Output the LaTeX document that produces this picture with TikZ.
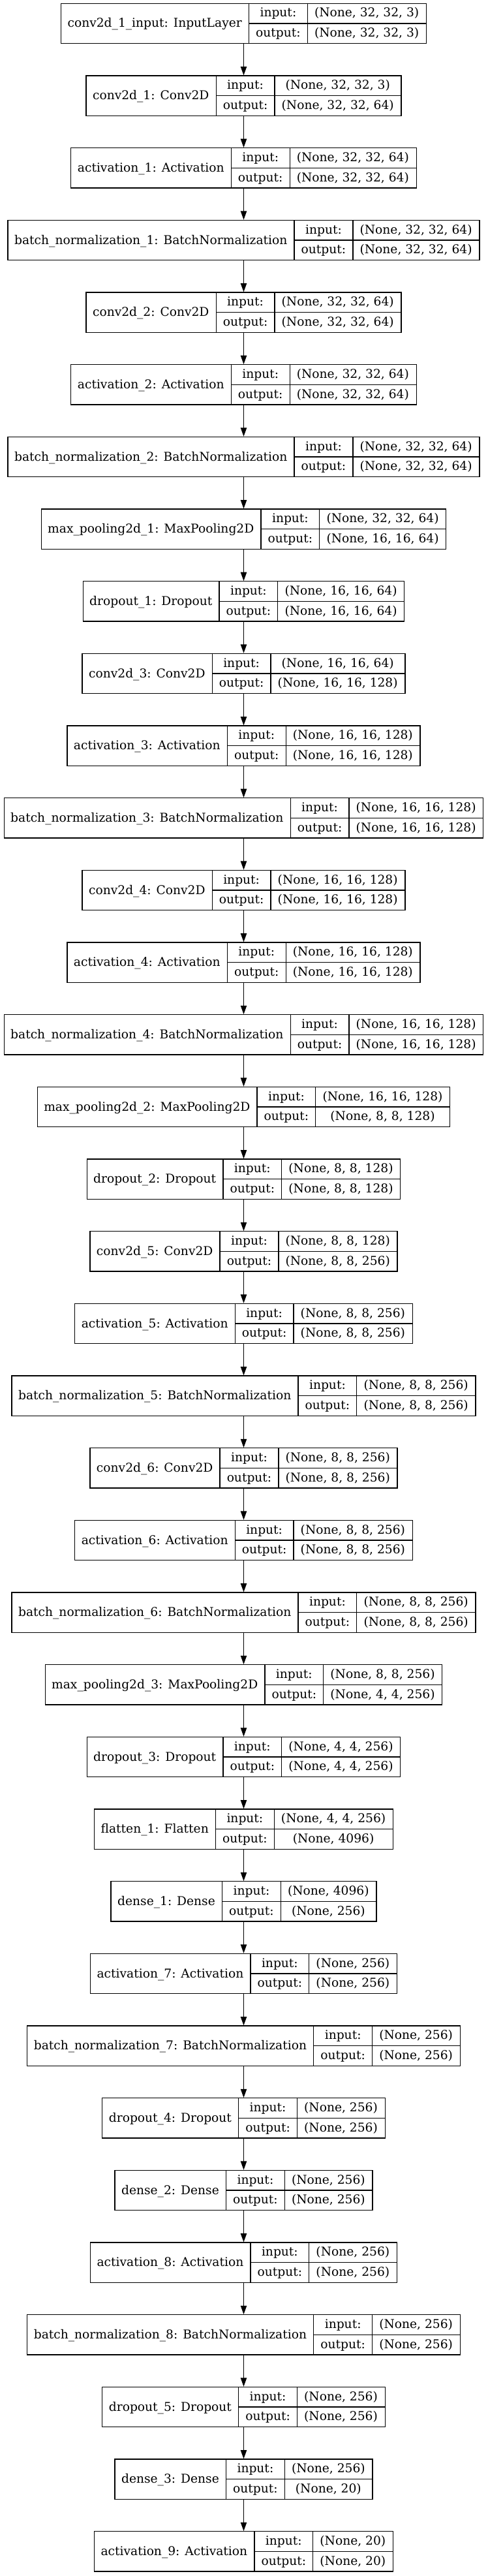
\documentclass[tikz,border=0pt]{standalone}
\usepackage{fontspec}
\setmainfont{DejaVu Serif}
\usetikzlibrary{arrows.meta}
\newdimen\kwA \newdimen\kwB \newdimen\kwC \newdimen\kwD
\newcommand\kfont{\fontsize{14pt}{16pt}\selectfont}
\makeatletter
\def\kstrip#1{\strip@pt#1}
\makeatother
\tikzset{
  layerbox/.style={draw=black, line width=0.9pt, rectangle, inner sep=0pt, minimum height=46pt},
  kline/.style={draw=black, line width=0.9pt},
  ktext/.style={inner sep=0pt, anchor=base, font=\kfont},
  karrow/.style={draw=black, line width=0.9pt, -{Triangle[length=10pt,width=7pt]}}
}
% measuring pass (outside the picture)
\newcommand\kmeasure[5]{%
 \setbox0=\hbox{\kfont #3}\kwA=\wd0
 \setbox0=\hbox{\kfont output:}\kwB=\wd0
 \setbox0=\hbox{\kfont #4}\kwC=\wd0
 \setbox0=\hbox{\kfont #5}\kwD=\wd0
 \ifdim\kwD>\kwC \kwC=\kwD\fi
 \expandafter\xdef\csname kA@#1\endcsname{\kstrip\kwA}%
 \expandafter\xdef\csname kB@#1\endcsname{\kstrip\kwB}%
 \expandafter\xdef\csname kC@#1\endcsname{\kstrip\kwC}%
}
\newcommand\kdraw[5]{%
 \pgfmathsetmacro\kcA{\csname kA@#1\endcsname+16}%
 \pgfmathsetmacro\kcB{\csname kB@#1\endcsname+16}%
 \pgfmathsetmacro\kcC{\csname kC@#1\endcsname+16}%
 \pgfmathsetmacro\ktot{\kcA+\kcB+\kcC}%
 \pgfmathsetmacro\kyc{-(4+83*#2)-23}%
 \pgfmathsetmacro\kxa{\kcA/2}%
 \pgfmathsetmacro\kxb{\kcA+\kcB/2}%
 \pgfmathsetmacro\kxc{\kcA+\kcB+\kcC/2}%
 \pgfmathsetmacro\kdb{\kcA+\kcB}%
 \node[layerbox, minimum width=\ktot pt] (#1) at (280.125pt,\kyc pt) {};
 \draw[kline] ([xshift=\kcA pt]#1.north west) -- ([xshift=\kcA pt]#1.south west);
 \draw[kline] ([xshift=\kdb pt]#1.north west) -- ([xshift=\kdb pt]#1.south west);
 \draw[kline] ([xshift=\kcA pt]#1.west) -- (#1.east);
 \node[ktext] (#1-l) at ([xshift=\kxa pt, yshift=-4.5pt]#1.west) {#3};
 \node[ktext] (#1-i) at ([xshift=\kxb pt, yshift=7.5pt]#1.west) {input:};
 \node[ktext] (#1-o) at ([xshift=\kxb pt, yshift=-15.5pt]#1.west) {output:};
 \node[ktext] (#1-iv) at ([xshift=\kxc pt, yshift=7.5pt]#1.west) {#4};
 \node[ktext] (#1-ov) at ([xshift=\kxc pt, yshift=-15.5pt]#1.west) {#5};
}
\newcommand\klayers{%
\kitem{L0}{0}{conv2d\_1\_input: InputLayer}{(None, 32, 32, 3)}{(None, 32, 32, 3)}
\kitem{L1}{1}{conv2d\_1: Conv2D}{(None, 32, 32, 3)}{(None, 32, 32, 64)}
\kitem{L2}{2}{activation\_1: Activation}{(None, 32, 32, 64)}{(None, 32, 32, 64)}
\kitem{L3}{3}{batch\_normalization\_1: BatchNormalization}{(None, 32, 32, 64)}{(None, 32, 32, 64)}
\kitem{L4}{4}{conv2d\_2: Conv2D}{(None, 32, 32, 64)}{(None, 32, 32, 64)}
\kitem{L5}{5}{activation\_2: Activation}{(None, 32, 32, 64)}{(None, 32, 32, 64)}
\kitem{L6}{6}{batch\_normalization\_2: BatchNormalization}{(None, 32, 32, 64)}{(None, 32, 32, 64)}
\kitem{L7}{7}{max\_pooling2d\_1: MaxPooling2D}{(None, 32, 32, 64)}{(None, 16, 16, 64)}
\kitem{L8}{8}{dropout\_1: Dropout}{(None, 16, 16, 64)}{(None, 16, 16, 64)}
\kitem{L9}{9}{conv2d\_3: Conv2D}{(None, 16, 16, 64)}{(None, 16, 16, 128)}
\kitem{L10}{10}{activation\_3: Activation}{(None, 16, 16, 128)}{(None, 16, 16, 128)}
\kitem{L11}{11}{batch\_normalization\_3: BatchNormalization}{(None, 16, 16, 128)}{(None, 16, 16, 128)}
\kitem{L12}{12}{conv2d\_4: Conv2D}{(None, 16, 16, 128)}{(None, 16, 16, 128)}
\kitem{L13}{13}{activation\_4: Activation}{(None, 16, 16, 128)}{(None, 16, 16, 128)}
\kitem{L14}{14}{batch\_normalization\_4: BatchNormalization}{(None, 16, 16, 128)}{(None, 16, 16, 128)}
\kitem{L15}{15}{max\_pooling2d\_2: MaxPooling2D}{(None, 16, 16, 128)}{(None, 8, 8, 128)}
\kitem{L16}{16}{dropout\_2: Dropout}{(None, 8, 8, 128)}{(None, 8, 8, 128)}
\kitem{L17}{17}{conv2d\_5: Conv2D}{(None, 8, 8, 128)}{(None, 8, 8, 256)}
\kitem{L18}{18}{activation\_5: Activation}{(None, 8, 8, 256)}{(None, 8, 8, 256)}
\kitem{L19}{19}{batch\_normalization\_5: BatchNormalization}{(None, 8, 8, 256)}{(None, 8, 8, 256)}
\kitem{L20}{20}{conv2d\_6: Conv2D}{(None, 8, 8, 256)}{(None, 8, 8, 256)}
\kitem{L21}{21}{activation\_6: Activation}{(None, 8, 8, 256)}{(None, 8, 8, 256)}
\kitem{L22}{22}{batch\_normalization\_6: BatchNormalization}{(None, 8, 8, 256)}{(None, 8, 8, 256)}
\kitem{L23}{23}{max\_pooling2d\_3: MaxPooling2D}{(None, 8, 8, 256)}{(None, 4, 4, 256)}
\kitem{L24}{24}{dropout\_3: Dropout}{(None, 4, 4, 256)}{(None, 4, 4, 256)}
\kitem{L25}{25}{flatten\_1: Flatten}{(None, 4, 4, 256)}{(None, 4096)}
\kitem{L26}{26}{dense\_1: Dense}{(None, 4096)}{(None, 256)}
\kitem{L27}{27}{activation\_7: Activation}{(None, 256)}{(None, 256)}
\kitem{L28}{28}{batch\_normalization\_7: BatchNormalization}{(None, 256)}{(None, 256)}
\kitem{L29}{29}{dropout\_4: Dropout}{(None, 256)}{(None, 256)}
\kitem{L30}{30}{dense\_2: Dense}{(None, 256)}{(None, 256)}
\kitem{L31}{31}{activation\_8: Activation}{(None, 256)}{(None, 256)}
\kitem{L32}{32}{batch\_normalization\_8: BatchNormalization}{(None, 256)}{(None, 256)}
\kitem{L33}{33}{dropout\_5: Dropout}{(None, 256)}{(None, 256)}
\kitem{L34}{34}{dense\_3: Dense}{(None, 256)}{(None, 20)}
\kitem{L35}{35}{activation\_9: Activation}{(None, 20)}{(None, 20)}
}
\begin{document}
\let\kitem\kmeasure
\klayers
\begin{tikzpicture}
\useasboundingbox (0pt,0pt) rectangle (560.25pt,-2960.25pt);
\let\kitem\kdraw
\klayers
\foreach \i [evaluate=\i as \j using int(\i+1)] in {0,...,34}
  \draw[karrow] (L\i.south) -- (L\j.north);
\end{tikzpicture}
\end{document}
